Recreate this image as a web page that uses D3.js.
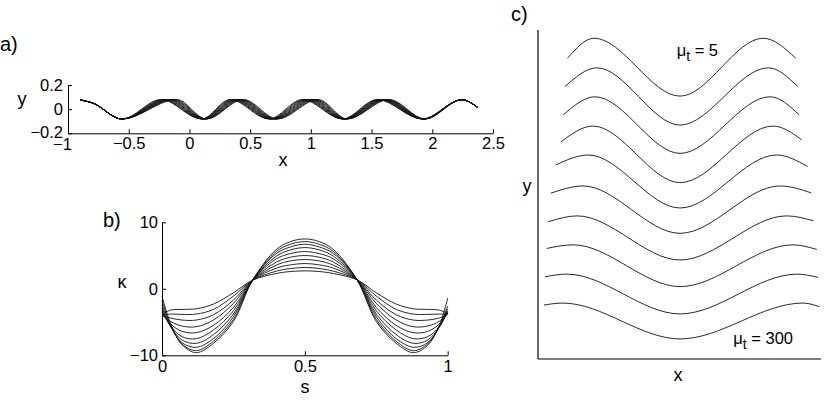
<!DOCTYPE html>
<html>
<head>
<meta charset="utf-8">
<script src="https://cdn.jsdelivr.net/npm/d3@7"></script>
<style>
body { margin: 0; background: #fff; }
text { font-family: "Liberation Sans", Arial, Helvetica, sans-serif; fill: #000; }
</style>
</head>
<body>
<div id="fig"></div>
<script>
// ---- panel a: body shapes, x of start / extrema / end for each curve
const aTicksX = [-1, -0.5, 0, 0.5, 1, 1.5, 2, 2.5];
const aTicksY = [-0.2, 0, 0.2];
const aShapeY = [0.077, 0.052, -0.082, 0.08, -0.082, 0.08, -0.082, 0.08, -0.082, 0.08, -0.082, 0.078, 0.013];
const aShapeX = [
	[-0.9, -0.8, -0.555, -0.235, 0.100, 0.335, 0.655, 0.930, 1.260, 1.545, 1.918, 2.243, 2.375],
	[-0.9, -0.8, -0.555, -0.221, 0.104, 0.347, 0.663, 0.944, 1.264, 1.556, 1.920, 2.243, 2.375],
	[-0.9, -0.8, -0.555, -0.206, 0.109, 0.360, 0.671, 0.959, 1.269, 1.567, 1.923, 2.243, 2.375],
	[-0.9, -0.8, -0.555, -0.192, 0.113, 0.372, 0.678, 0.973, 1.273, 1.578, 1.926, 2.243, 2.375],
	[-0.9, -0.8, -0.555, -0.177, 0.118, 0.384, 0.686, 0.988, 1.278, 1.589, 1.929, 2.243, 2.375],
	[-0.9, -0.8, -0.555, -0.163, 0.122, 0.396, 0.694, 1.002, 1.282, 1.600, 1.931, 2.243, 2.375],
	[-0.9, -0.8, -0.555, -0.148, 0.127, 0.408, 0.702, 1.017, 1.287, 1.611, 1.934, 2.243, 2.375],
	[-0.9, -0.8, -0.555, -0.134, 0.131, 0.421, 0.709, 1.031, 1.291, 1.622, 1.937, 2.243, 2.375],
	[-0.9, -0.8, -0.555, -0.119, 0.136, 0.433, 0.717, 1.046, 1.296, 1.633, 1.940, 2.243, 2.375],
	[-0.9, -0.8, -0.555, -0.105, 0.140, 0.445, 0.725, 1.060, 1.300, 1.645, 1.942, 2.243, 2.375]
];

// ---- panel b: curvature along the body
const bTicksX = [0, 0.5, 1];
const bTicksY = [-10, 0, 10];
const bS = [0, 0.03, 0.07, 0.12, 0.18, 0.25, 0.317, 0.4, 0.45, 0.5, 0.55, 0.6, 0.683, 0.75, 0.82, 0.88, 0.93, 0.97, 1];
const bKappa = [
	[-1.1, -5.2, -8.4, -9.6, -8.2, -4.9, 1.3, 5.9, 7.1, 7.5, 7.1, 5.9, 1.35, -4.9, -8.2, -9.6, -8.5, -5.6, -1.4],
	[-1.8, -5.4, -8.3, -9.3, -7.9, -4.6, 1.3, 5.6, 6.7, 7.1, 6.7, 5.6, 1.35, -4.6, -7.9, -9.3, -8.3, -5.7, -2.6],
	[-2.4, -5.6, -8.1, -8.8, -7.5, -4.2, 1.3, 5.3, 6.3, 6.7, 6.3, 5.3, 1.35, -4.2, -7.5, -8.8, -8.1, -5.8, -3.0],
	[-2.9, -5.7, -7.7, -8.2, -6.9, -3.8, 1.3, 4.9, 5.85, 6.2, 5.85, 4.9, 1.35, -3.8, -6.9, -8.2, -7.7, -5.8, -3.3],
	[-3.3, -5.6, -7.2, -7.5, -6.2, -3.3, 1.3, 4.5, 5.3, 5.6, 5.3, 4.5, 1.35, -3.3, -6.2, -7.5, -7.2, -5.7, -3.5],
	[-3.6, -5.3, -6.4, -6.6, -5.5, -2.8, 1.3, 4.0, 4.75, 5.0, 4.75, 4.0, 1.35, -2.8, -5.5, -6.6, -6.4, -5.3, -3.6],
	[-3.9, -4.9, -5.6, -5.7, -4.7, -2.2, 1.3, 3.55, 4.2, 4.4, 4.2, 3.55, 1.35, -2.2, -4.7, -5.7, -5.6, -4.9, -3.7],
	[-4.0, -4.4, -4.7, -4.7, -3.9, -1.7, 1.3, 3.1, 3.6, 3.8, 3.6, 3.1, 1.35, -1.7, -3.9, -4.7, -4.7, -4.4, -3.8],
	[-4.0, -3.8, -3.85, -3.8, -3.1, -1.1, 1.3, 2.65, 3.05, 3.2, 3.05, 2.65, 1.35, -1.1, -3.1, -3.8, -3.85, -3.8, -3.8],
	[-3.9, -3.2, -3.1, -3.0, -2.3, -0.6, 1.3, 2.3, 2.6, 2.7, 2.6, 2.3, 1.35, -0.6, -2.3, -3.0, -3.1, -3.2, -3.7]
];

// ---- panel c: shapes stacked from mu_t = 5 (top) to mu_t = 300 (bottom)
// points: start, peak, trough, peak, end (fractions of the panel box)
const cShapes = [
	[[0.104, 0.914], [0.198, 0.975], [0.502, 0.799], [0.796, 0.975], [0.911, 0.914]],
	[[0.095, 0.828], [0.208, 0.885], [0.502, 0.711], [0.814, 0.885], [0.918, 0.828]],
	[[0.089, 0.742], [0.201, 0.797], [0.502, 0.625], [0.820, 0.797], [0.923, 0.742]],
	[[0.081, 0.660], [0.194, 0.708], [0.502, 0.536], [0.831, 0.708], [0.932, 0.666]],
	[[0.063, 0.590], [0.178, 0.620], [0.502, 0.459], [0.843, 0.620], [0.953, 0.585]],
	[[0.045, 0.504], [0.159, 0.526], [0.502, 0.382], [0.855, 0.526], [0.965, 0.505]],
	[[0.036, 0.417], [0.138, 0.435], [0.502, 0.301], [0.879, 0.435], [0.973, 0.420]],
	[[0.031, 0.336], [0.124, 0.347], [0.502, 0.220], [0.901, 0.347], [0.985, 0.333]],
	[[0.025, 0.250], [0.102, 0.258], [0.502, 0.137], [0.915, 0.258], [0.990, 0.248]],
	[[0.021, 0.164], [0.088, 0.170], [0.502, 0.061], [0.936, 0.170], [0.994, 0.159]]
];
const cLabels = [
	{ mu: "5", x: 0.49, y: 0.92 },
	{ mu: "300", x: 0.69, y: 0.045 }
];

const W = 830, H = 405;
const FONT = 16.5;
const fmt = d3.format("~g");

const svg = d3.select("#fig").append("svg")
	.attr("width", W)
	.attr("height", H)
	.attr("viewBox", `0 0 ${W} ${H}`);

function styleAxis(g) {
	g.selectAll("path, line").attr("stroke", "#000").attr("stroke-width", 1);
	g.selectAll("text")
		.attr("font-size", FONT)
		.attr("font-family", null)
		.attr("fill", "#000");
}

function curveStroke(sel) {
	sel.attr("fill", "none")
		.attr("stroke", "#111")
		.attr("stroke-width", 0.9);
}

// ===== panel a
const ax = d3.scaleLinear().domain([-1, 2.5]).range([68, 493]);
const ay = d3.scaleLinear().domain([-0.2, 0.2]).range([133.3, 85]);

const pa = svg.append("g");
pa.append("g")
	.attr("transform", `translate(0,${ay(-0.2)})`)
	.call(d3.axisBottom(ax).tickValues(aTicksX).tickFormat(fmt).tickSizeInner(-4).tickSizeOuter(0).tickPadding(4))
	.call(styleAxis)
	.call(g => g.selectAll(".tick text").filter(d => d === -1).attr("dx", -6).attr("dy", "0.78em"));
pa.append("g")
	.attr("transform", `translate(${ax(-1)},0)`)
	.call(d3.axisLeft(ay).tickValues(aTicksY).tickFormat(fmt).tickSizeInner(-4).tickSizeOuter(0).tickPadding(5))
	.call(styleAxis)
	.call(g => g.selectAll(".tick text").filter(d => d === -0.2).attr("dy", "0.25em"));

const aLine = d3.line()
	.x(d => ax(d[0]))
	.y(d => ay(d[1]))
	.curve(d3.curveMonotoneX);
pa.selectAll(".shape")
	.data(aShapeX.map(xs => xs.map((x, i) => [x, aShapeY[i]])))
	.enter().append("path")
	.attr("class", "shape")
	.attr("d", aLine)
	.call(curveStroke);

pa.append("text").attr("x", 0).attr("y", 51).attr("font-size", 20).text("a)");
pa.append("text").attr("x", 22).attr("y", 105).attr("font-size", 18).attr("text-anchor", "middle").text("y");
pa.append("text").attr("x", 283).attr("y", 166).attr("font-size", 18).attr("text-anchor", "middle").text("x");

// ===== panel b
const bx = d3.scaleLinear().domain([0, 1]).range([162, 447.7]);
const by = d3.scaleLinear().domain([-10, 10]).range([355.3, 222.3]);

const pb = svg.append("g");
pb.append("g")
	.attr("transform", `translate(0,${by(-10)})`)
	.call(d3.axisBottom(bx).tickValues(bTicksX).tickFormat(fmt).tickSizeInner(-4).tickSizeOuter(0).tickPadding(5))
	.call(styleAxis);
pb.append("g")
	.attr("transform", `translate(${bx(0)},0)`)
	.call(d3.axisLeft(by).tickValues(bTicksY).tickFormat(fmt).tickSizeInner(-4).tickSizeOuter(0).tickPadding(4))
	.call(styleAxis);

const bLine = d3.line()
	.x(d => bx(d[0]))
	.y(d => by(d[1]))
	.curve(d3.curveCatmullRom.alpha(0.5));
pb.selectAll(".kappa")
	.data(bKappa.map(row => row.map((k, i) => [bS[i], k])))
	.enter().append("path")
	.attr("class", "kappa")
	.attr("d", bLine)
	.call(curveStroke);

pb.append("text").attr("x", 103).attr("y", 227).attr("font-size", 20).text("b)");
pb.append("text").attr("x", 122).attr("y", 288).attr("font-size", 18).attr("text-anchor", "middle").text("κ");
pb.append("text").attr("x", 305).attr("y", 393).attr("font-size", 18).attr("text-anchor", "middle").text("s");

// ===== panel c
const cx = d3.scaleLinear().domain([0, 1]).range([538, 821]);
const cy = d3.scaleLinear().domain([0, 1]).range([359, 30]);

const pc = svg.append("g");
pc.append("line")
	.attr("x1", cx(0)).attr("x2", cx(0))
	.attr("y1", cy(0)).attr("y2", cy(1))
	.attr("stroke", "#000").attr("stroke-width", 1.2);
pc.append("line")
	.attr("x1", cx(0)).attr("x2", cx(1))
	.attr("y1", cy(0)).attr("y2", cy(0))
	.attr("stroke", "#000").attr("stroke-width", 1.2);

const cLine = d3.line()
	.x(d => cx(d[0]))
	.y(d => cy(d[1]))
	.curve(d3.curveMonotoneX);
pc.selectAll(".wave")
	.data(cShapes)
	.enter().append("path")
	.attr("class", "wave")
	.attr("d", cLine)
	.call(curveStroke);

cLabels.forEach(l => {
	const t = pc.append("text")
		.attr("x", cx(l.x))
		.attr("y", cy(l.y))
		.attr("font-size", FONT);
	t.append("tspan").text("μ");
	t.append("tspan").attr("dy", 5).attr("font-size", 14).text("t");
	t.append("tspan").attr("dy", -5).text(" = " + l.mu);
});

pc.append("text").attr("x", 511).attr("y", 21).attr("font-size", 20).text("c)");
pc.append("text").attr("x", 527).attr("y", 192).attr("font-size", 18).attr("text-anchor", "middle").text("y");
pc.append("text").attr("x", 678).attr("y", 381).attr("font-size", 18).attr("text-anchor", "middle").text("x");
</script>
</body>
</html>
